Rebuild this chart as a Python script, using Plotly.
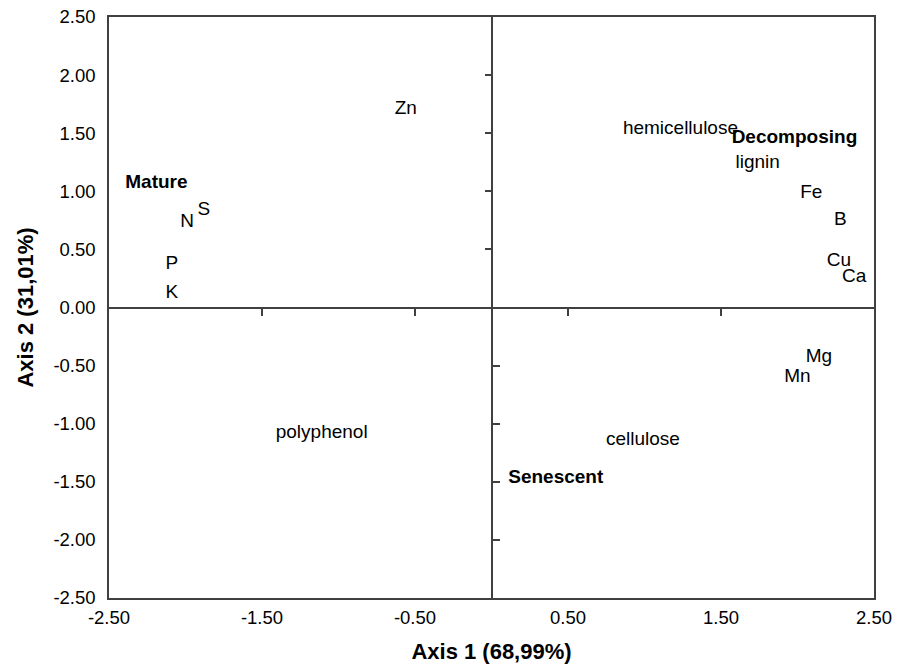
import plotly.graph_objects as go

# ---- data (label positions on the two ordination axes) ----
var_names = ["Zn", "polyphenol", "N", "S", "P", "K", "hemicellulose", "lignin",
             "Fe", "B", "Cu", "Ca", "Mg", "Mn", "cellulose"]
var_x = [-0.56, -1.11, -1.99, -1.88, -2.09, -2.09, 1.235, 1.74,
         2.09, 2.28, 2.27, 2.37, 2.14, 2.00, 0.99]
var_y = [1.71, -1.08, 0.73, 0.84, 0.37, 0.12, 1.53, 1.24,
         0.985, 0.75, 0.40, 0.26, -0.43, -0.60, -1.14]

stage_names = ["Mature", "Decomposing", "Senescent"]
stage_x = [-2.19, 1.98, 0.42]
stage_y = [1.07, 1.46, -1.47]

x_tickvals = [-2.5, -1.5, -0.5, 0.5, 1.5, 2.5]
x_ticktext = ["-2.50", "-1.50", "-0.50", "0.50", "1.50", "2.50"]
y_tickvals = [-2.5, -2.0, -1.5, -1.0, -0.5, 0.0, 0.5, 1.0, 1.5, 2.0, 2.5]
y_ticktext = ["-2.50", "-2.00", "-1.50", "-1.00", "-0.50", "0.00",
              "0.50", "1.00", "1.50", "2.00", "2.50"]
inner_x_ticks = [-1.5, -0.5, 0.5, 1.5]
inner_y_ticks_up = [0.5, 1.0, 1.5, 2.0]
inner_y_ticks_down = [-2.0, -1.5, -1.0, -0.5]

x_title = "Axis 1 (68,99%)"
y_title = "Axis 2 (31,01%)"

FONT = "Liberation Sans, Arial, sans-serif"
LINE = "#404040"
RNG = [-2.5, 2.5]
LBL = 19
TCK = 18.5
TTL = 22

fig = go.Figure()
fig.add_trace(go.Scatter(
    x=var_x, y=var_y, text=var_names, mode="text", textposition="middle center",
    textfont=dict(family=FONT, size=LBL, color="black"), hoverinfo="skip",
    showlegend=False, cliponaxis=False))
fig.add_trace(go.Scatter(
    x=stage_x, y=stage_y, text=stage_names, mode="text", textposition="middle center",
    textfont=dict(family=FONT, size=LBL, color="black", weight="bold"), hoverinfo="skip",
    showlegend=False, cliponaxis=False))
# dummy traces so overlay tick axes get drawn
fig.add_trace(go.Scatter(x=[None], y=[None], xaxis="x2", yaxis="y2", showlegend=False, hoverinfo="skip"))
fig.add_trace(go.Scatter(x=[None], y=[None], xaxis="x2", yaxis="y3", showlegend=False, hoverinfo="skip"))

fig.update_layout(
    width=896, height=656, autosize=False,
    margin=dict(l=101, r=30, t=9, b=66, autoexpand=False),
    plot_bgcolor="white", paper_bgcolor="white",
    font=dict(family=FONT, size=TCK, color="black"),
    xaxis=dict(
        range=RNG, showgrid=False, zeroline=True, zerolinecolor=LINE, zerolinewidth=1.5,
        showline=True, linecolor=LINE, linewidth=1.5, mirror=True, automargin=False,
        tickmode="array", tickvals=x_tickvals, ticktext=x_ticktext, ticks="",
        ticklabelstandoff=2, ticklabeloverflow="allow",
        tickfont=dict(family=FONT, size=TCK, color="black"),
        title=dict(text=x_title, font=dict(family=FONT, size=TTL, color="black", weight="bold"),
                   standoff=17),
    ),
    yaxis=dict(
        range=RNG, showgrid=False, zeroline=True, zerolinecolor=LINE, zerolinewidth=1.5,
        showline=True, linecolor=LINE, linewidth=1.5, mirror=True, automargin=False,
        tickmode="array", tickvals=y_tickvals, ticktext=y_ticktext, ticks="",
        ticklabelstandoff=8, ticklabeloverflow="allow",
        tickfont=dict(family=FONT, size=TCK, color="black"),
        title=dict(text=y_title, font=dict(family=FONT, size=TTL, color="black", weight="bold"),
                   standoff=14),
    ),
    xaxis2=dict(
        range=RNG, overlaying="x", anchor="free", position=0.5, side="bottom",
        showgrid=False, zeroline=False, showline=False, showticklabels=False, automargin=False,
        tickmode="array", tickvals=inner_x_ticks, ticks="outside", ticklen=7,
        tickwidth=1.5, tickcolor=LINE,
    ),
    yaxis2=dict(
        range=RNG, overlaying="y", anchor="free", position=0.5, side="left",
        showgrid=False, zeroline=False, showline=False, showticklabels=False, automargin=False,
        tickmode="array", tickvals=inner_y_ticks_up, ticks="outside", ticklen=7,
        tickwidth=1.5, tickcolor=LINE,
    ),
    yaxis3=dict(
        range=RNG, overlaying="y", anchor="free", position=0.5, side="right",
        showgrid=False, zeroline=False, showline=False, showticklabels=False, automargin=False,
        tickmode="array", tickvals=inner_y_ticks_down, ticks="outside", ticklen=7,
        tickwidth=1.5, tickcolor=LINE,
    ),
)

fig.write_html("out.html")
